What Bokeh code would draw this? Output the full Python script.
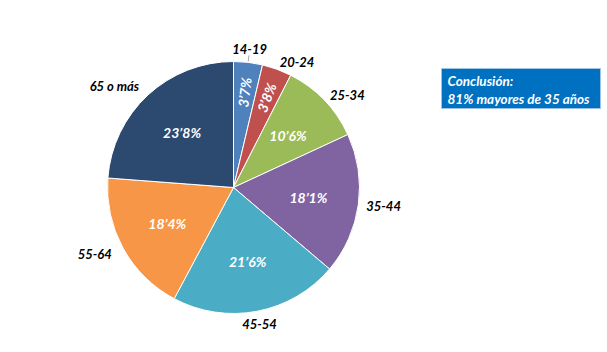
import math
import numpy as np
from bokeh.plotting import figure
from bokeh.models import ColumnDataSource, Range1d
from bokeh.core.properties import value
from bokeh.embed import file_html
from bokeh.resources import INLINE

categories = ["14-19", "20-24", "25-34", "35-44", "45-54", "55-64", "65 o más"]
percentages = [3.7, 3.8, 10.6, 18.1, 21.6, 18.4, 23.8]
colors = ["#4F81BD", "#C0504D", "#9BBB59", "#8064A2", "#4BACC6", "#F79646", "#2C4A70"]
note_lines = ["Conclusión:", "81% mayores de 35 años"]

W, H = 607, 352
cx, cy, R = 233, H - 187, 126
FONT = "Lato"

vals = np.array(percentages)
frac = vals / vals.sum()
cum = np.concatenate([[0], np.cumsum(frac)])
start = math.pi / 2 - 2 * math.pi * cum[:-1]
end = math.pi / 2 - 2 * math.pi * cum[1:]
theta_mid = 2 * math.pi * (cum[:-1] + frac / 2)  # clockwise from top

p = figure(width=W, height=H, x_range=Range1d(0, W), y_range=Range1d(0, H),
           output_backend="svg", toolbar_location=None,
           x_axis_location=None, y_axis_location=None, min_border=0)
p.grid.visible = False
p.outline_line_color = None
p.background_fill_color = "white"

src = ColumnDataSource(dict(start=start, end=end, color=colors))
p.wedge(x=cx, y=cy, radius=R, start_angle="start", end_angle="end", direction="clock",
        fill_color="color", line_color="white", line_width=1, source=src)

# inside percentage labels
small = vals < 5
r_in = np.where(small, 0.76 * R, 0.6 * R)
ix = cx + r_in * np.sin(theta_mid)
iy = cy + r_in * np.cos(theta_mid)
ang = np.where(small, math.pi / 2 - theta_mid, 0.0)
txt = [f"{v:.1f}".replace(".", "\u2019") + "%" for v in vals]
p.text(x=ix, y=iy, text=txt, angle=ang, text_color="white", text_font=value(FONT),
       text_font_style="bold italic", text_font_size="14px",
       text_align="center", text_baseline="middle")

# outside category labels
s = np.sin(theta_mid)
align = ["left" if v > 0.3 else ("right" if v < -0.3 else "center") for v in s]
r_out = np.where(s > 0.3, R + 8, R + 13)
ox = cx + r_out * np.sin(theta_mid)
oy = cy + r_out * np.cos(theta_mid)
osrc = ColumnDataSource(dict(x=ox, y=oy, text=categories, align=align))
p.text(x="x", y="y", text="text", text_align="align", text_baseline="middle",
       text_color="black", text_font=value(FONT), text_font_style="bold italic",
       text_font_size="13px", source=osrc)

# leader line for first slice
t0 = theta_mid[0]
p.segment(x0=cx + (R + 1) * math.sin(t0), y0=cy + (R + 1) * math.cos(t0),
          x1=cx + (R + 7) * math.sin(t0), y1=cy + (R + 7) * math.cos(t0),
          line_color="#A6A6A6", line_width=1)

# conclusion box
p.quad(left=441, right=600, bottom=H - 108, top=H - 68, fill_color="#0070C0",
       line_color="#9DC3E6", line_width=1)
p.text(x=[447, 447], y=[H - 80, H - 98], text=note_lines, text_color="white",
       text_font=value(FONT), text_font_style="bold italic", text_font_size="13.5px",
       text_align="left", text_baseline="middle")

open("out.html", "w").write(file_html(p, INLINE))
